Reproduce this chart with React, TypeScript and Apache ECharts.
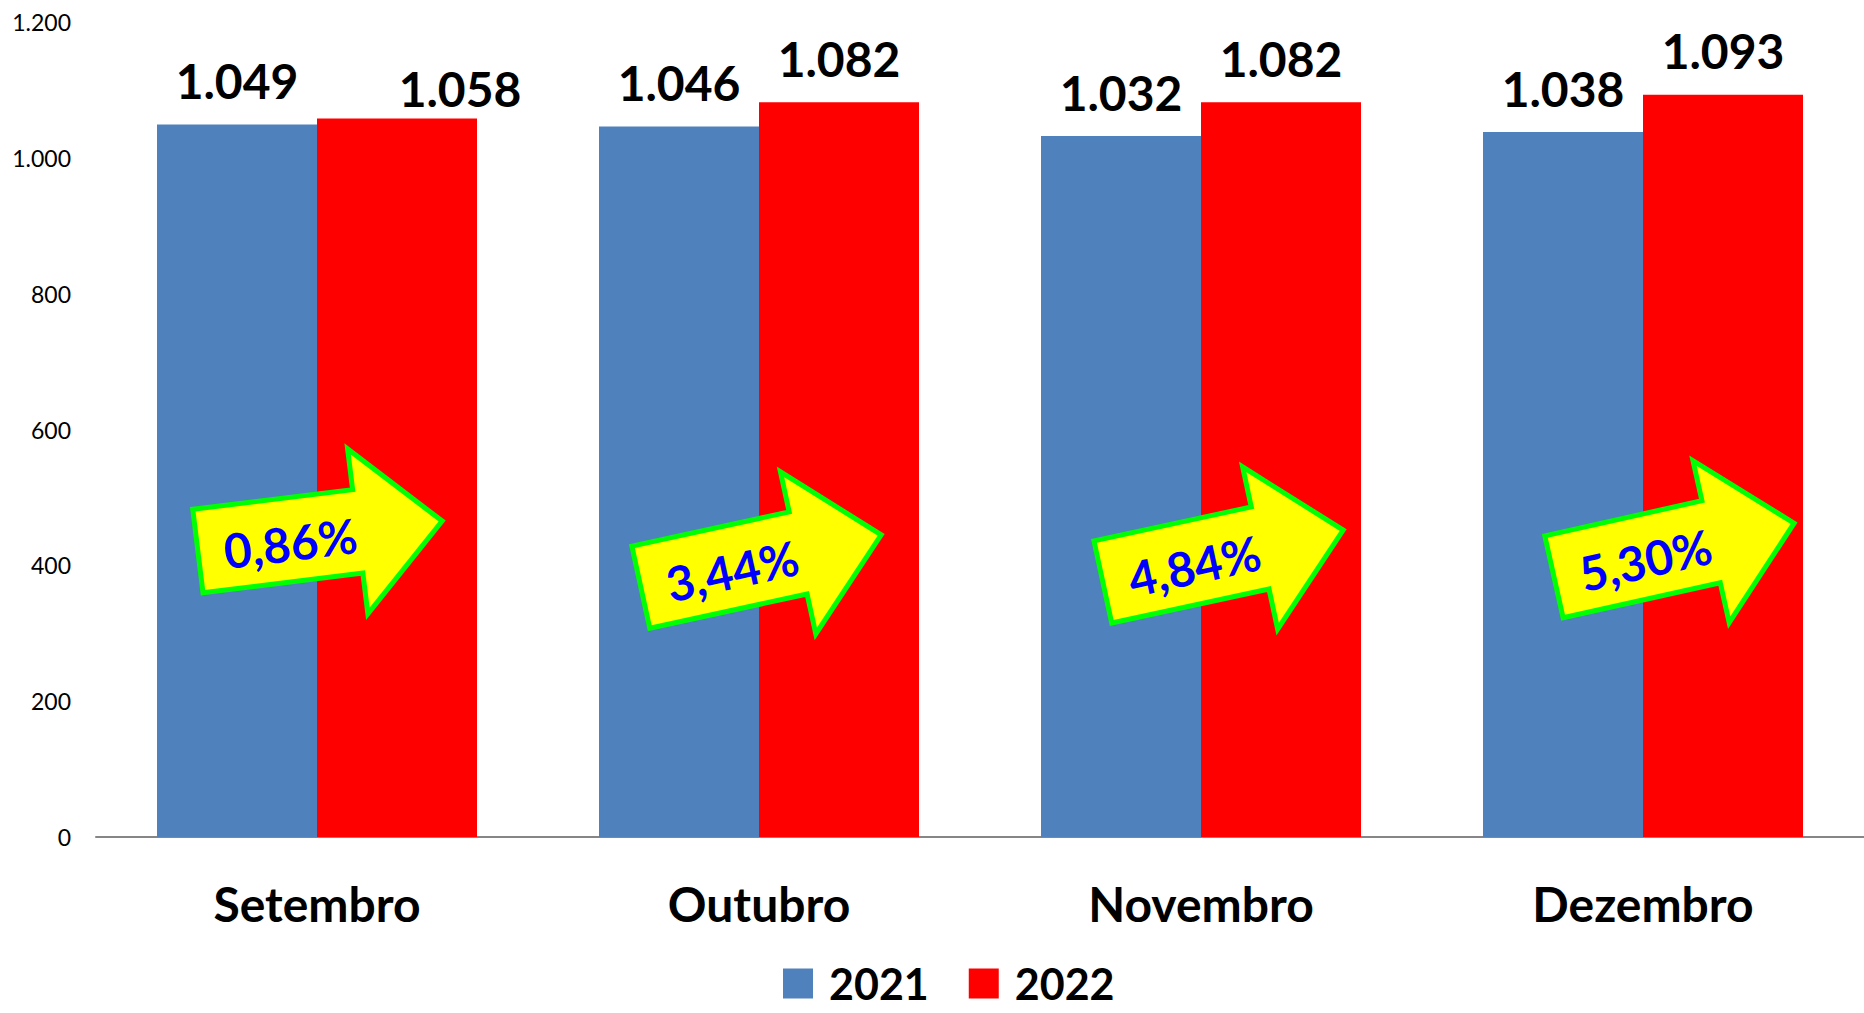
import React, { useEffect, useRef } from "react";
import * as echarts from "echarts";

const categories = ["Setembro", "Outubro", "Novembro", "Dezembro"];
const series2021 = [1049, 1046, 1032, 1038];
const series2022 = [1058, 1082, 1082, 1093];
const growthLabels = ["0,86%", "3,44%", "4,84%", "5,30%"];
const yTicks = [0, 200, 400, 600, 800, 1000, 1200];

// arrow annotation layout (pixel positions, rotation in degrees)
const arrowLayout = [
  { x: 320, y: 536, rot: 7 },
  { x: 761, y: 561, rot: 12.3 },
  { x: 1223, y: 556, rot: 12.2 },
  { x: 1674, y: 550, rot: 12.6 },
];

const arrowShape = [
  [-123, -42],
  [38, -42],
  [38, -83],
  [123, 0],
  [38, 83],
  [38, 42],
  [-123, 42],
];

const fmt = (v: number) => {
  const s = String(Math.round(v));
  return s.length > 3 ? s.slice(0, s.length - 3) + "." + s.slice(s.length - 3) : s;
};

export default function App() {
  const ref = useRef<HTMLDivElement>(null);
  useEffect(() => {
    if (!ref.current) return;
    const chart = echarts.init(ref.current, undefined, { renderer: "svg" });
    const labelBase = {
      show: true,
      position: "top",
      distance: 20,
      fontFamily: "Lato",
      fontWeight: "bold",
      fontSize: 48,
      color: "#000",
      formatter: (p: any) => fmt(p.value),
    };
    const elements: any[] = [];
    arrowLayout.forEach((a, i) => {
      const r = (a.rot * Math.PI) / 180;
      const tx = a.x + Math.cos(r) * -30 + Math.sin(r) * 3;
      const ty = a.y - Math.sin(r) * -30 + Math.cos(r) * 3;
      elements.push({
        type: "polygon",
        x: a.x,
        y: a.y,
        rotation: r,
        z: 100,
        shape: { points: arrowShape },
        style: { fill: "#FFFF00", stroke: "#00FF00", lineWidth: 5 },
      });
      elements.push({
        type: "text",
        x: tx,
        y: ty,
        rotation: r,
        z: 101,
        style: {
          text: growthLabels[i],
          fontFamily: "Lato",
          fontWeight: "bold",
          fontSize: 48,
          fill: "#0000FF",
          align: "center",
          verticalAlign: "middle",
        },
      });
    });
    chart.setOption({
      animation: false,
      backgroundColor: "#fff",
      grid: { left: 96, width: 1774, top: 22, bottom: 176, containLabel: false },
      legend: {
        left: 778,
        top: 957,
        itemWidth: 30,
        itemHeight: 30,
        itemGap: 40,
        icon: "rect",
        textStyle: {
          fontFamily: "Lato",
          fontWeight: "bold",
          fontSize: 43,
          lineHeight: 40,
          color: "#000",
          padding: [0, 0, 0, 11],
        },
        data: ["2021", "2022"],
      },
      xAxis: {
        type: "category",
        data: categories,
        axisLine: { lineStyle: { color: "#868686", width: 2 } },
        axisTick: { show: false },
        axisLabel: {
          margin: 42,
          fontFamily: "Lato",
          fontWeight: "bold",
          fontSize: 48,
          color: "#000",
        },
      },
      yAxis: {
        type: "value",
        min: yTicks[0],
        max: yTicks[yTicks.length - 1],
        interval: 200,
        axisLine: { show: false },
        axisTick: { show: false },
        splitLine: { show: false },
        axisLabel: {
          margin: 25,
          fontFamily: "Lato",
          fontSize: 23,
          color: "#000",
          formatter: (v: number) => fmt(v),
        },
      },
      series: [
        {
          name: "2021",
          type: "bar",
          data: series2021,
          barWidth: 160,
          barGap: "0%",
          itemStyle: { color: "#4F81BD" },
          label: labelBase,
        },
        {
          name: "2022",
          type: "bar",
          data: series2022.map((v, i) =>
            i === 0 ? { value: v, label: { offset: [63, 14] } } : v
          ),
          barWidth: 160,
          itemStyle: { color: "#FF0000" },
          label: labelBase,
        },
      ],
      graphic: { elements },
    });
    return () => chart.dispose();
  }, []);
  return (
    <div
      ref={ref}
      style={{ position: "fixed", left: 0, top: 0, width: 1864, height: 1013 }}
    />
  );
}
